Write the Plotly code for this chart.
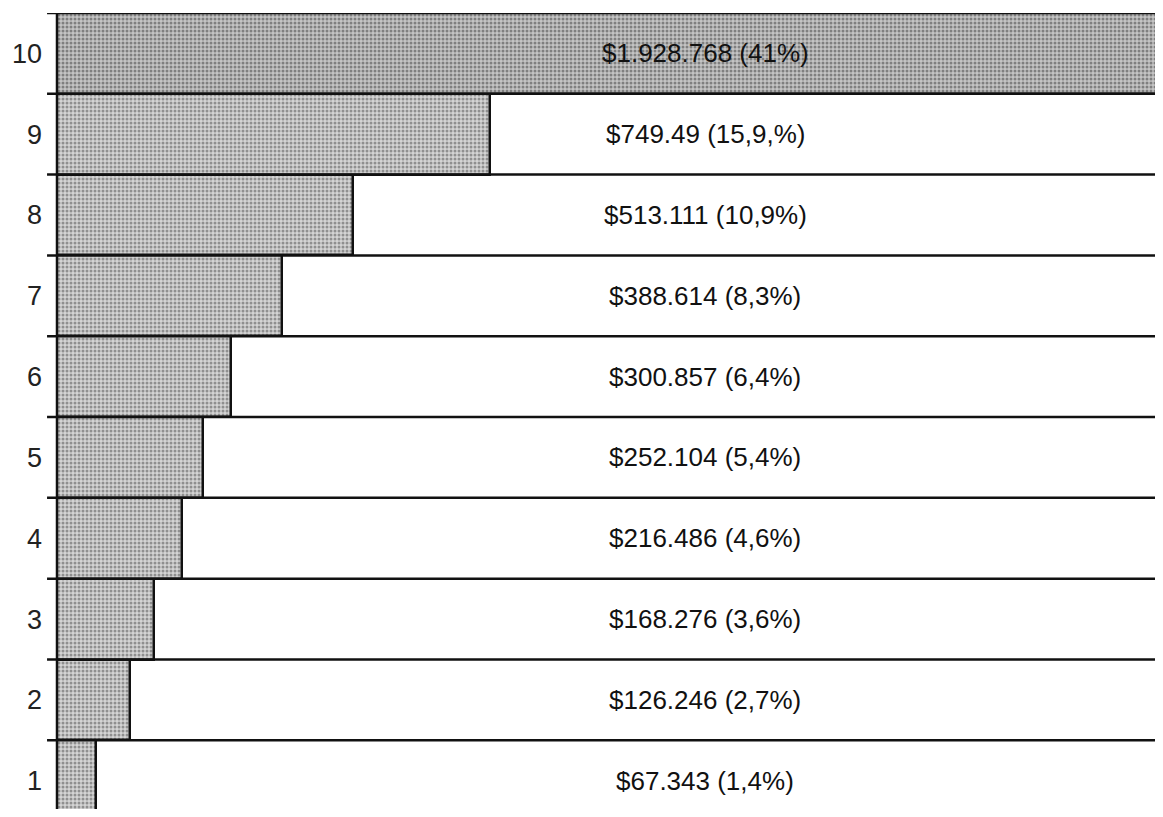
import plotly.graph_objects as go

categories = ["1", "2", "3", "4", "5", "6", "7", "8", "9", "10"]
values = [67343, 126246, 168276, 216486, 252104, 300857, 388614, 513111, 749490, 1928768]
labels = ["$67.343 (1,4%)", "$126.246 (2,7%)", "$168.276 (3,6%)", "$216.486 (4,6%)",
          "$252.104 (5,4%)", "$300.857 (6,4%)", "$388.614 (8,3%)", "$513.111 (10,9%)",
          "$749.49 (15,9,%)", "$1.928.768 (41%)"]

FONT = "Liberation Sans, Arial, sans-serif"
ypos = list(range(1, 11))
fg = ["#4a4a4a"] * 9 + ["#3a3a3a"]
bg = ["#d4d4d4"] * 9 + ["#c4c4c4"]

fig = go.Figure()
fig.add_trace(go.Bar(
    x=values, y=ypos, orientation="h", width=1.0,
    marker=dict(
        color="#c8c8c8",
        line=dict(color="#111", width=2.5),
        pattern=dict(shape=".", fgcolor=fg, bgcolor=bg, size=4, solidity=0.45),
    ),
    hoverinfo="skip",
))

shapes = []
for b in [i + 0.5 for i in range(1, 11)]:
    shapes.append(dict(type="line", xref="paper", yref="y", x0=-0.009, x1=1, y0=b, y1=b,
                       line=dict(color="#111", width=2.5)))
shapes.append(dict(type="line", xref="paper", yref="paper", x0=0, x1=0, y0=0, y1=1,
                   line=dict(color="#111", width=2.5)))

annotations = []
for y, t in zip(ypos, labels):
    annotations.append(dict(x=0.586, xref="paper", y=y, yref="y", text=t, showarrow=False,
                            font=dict(family=FONT, size=26, color="#111")))

fig.update_layout(
    width=1155, height=801,
    margin=dict(l=49, r=0, t=5, b=0),
    paper_bgcolor="white", plot_bgcolor="white",
    showlegend=False, bargap=0,
    shapes=shapes, annotations=annotations,
    xaxis=dict(range=[0, 1914400], visible=False, fixedrange=True),
    yaxis=dict(range=[0.65, 10.5], tickvals=ypos, ticktext=categories, showgrid=False,
               zeroline=False, showline=False, ticks="", ticklabelstandoff=14,
               tickfont=dict(family=FONT, size=27, color="#222")),
)

fig.write_html("out.html")
